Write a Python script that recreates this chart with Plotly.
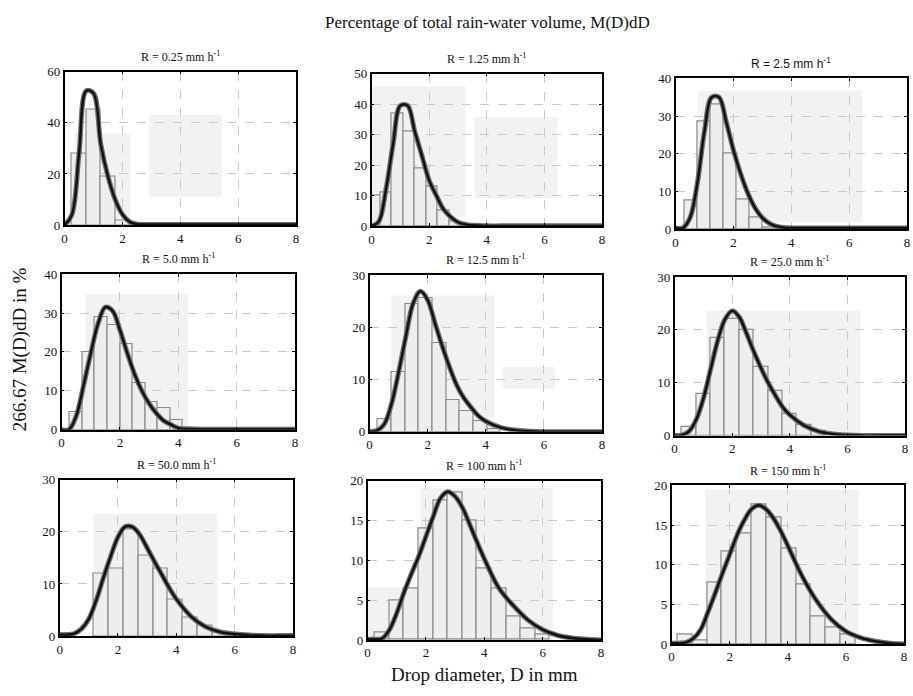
import plotly.graph_objects as go

W, H = 913, 696

# ---------------- data ----------------
rain_rates = ["0.25", "1.25", "2.5", "5.0", "12.5", "25.0", "50.0", "100", "150"]
y_max = [60, 50, 40, 40, 30, 30, 30, 20, 20]
y_step = [20, 10, 10, 10, 10, 10, 10, 5, 5]
x_ticks = [0, 2, 4, 6, 8]

# model curve, sampled on a common diameter grid (mm)
D_grid = [0, 0.25, 0.5, 0.75, 1.0, 1.25, 1.5, 1.75, 2.0, 2.25, 2.5, 2.75, 3.0,
          3.25, 3.5, 3.75, 4.0, 4.5, 5.0, 5.5, 6.0, 6.5, 7.0, 7.5, 8.0]
curve_R025 = [0, 4, 28, 52.5, 51.5, 31.6, 19, 10, 4.2, 1.3, 0.4, 0.3, 0.3,
              0.3, 0.3, 0.3, 0.3, 0.3, 0.3, 0.3, 0.3, 0.3, 0.3, 0.3, 0.3]
curve_R125 = [0, 1.5, 12, 27, 39.5, 39.5, 31, 23, 15, 10, 5.5, 3, 1.3,
              0.6, 0.3, 0.2, 0.1, 0.1, 0.1, 0.1, 0.1, 0.1, 0.1, 0.1, 0.1]
curve_R25 = [0.3, 0.3, 3, 12, 26, 35, 35, 28.5, 21, 14.7, 9.5, 5.6, 3,
             1.5, 0.7, 0.4, 0.3, 0.3, 0.3, 0.3, 0.3, 0.3, 0.3, 0.3, 0.3]
curve_R50 = [0, 0, 3.5, 11.3, 19.7, 27.3, 31.5, 30.5, 25.6, 19.7, 14.3, 10, 6.7,
             4.2, 2.3, 1.3, 0.4, 0.2, 0.1, 0.1, 0.1, 0.1, 0.1, 0.1, 0.1]
curve_R12 = [0, 0.2, 1.4, 5.2, 11.4, 18.3, 24.6, 26.9, 25.2, 20.8, 16.4, 12.4, 8.9,
             6.4, 4.6, 3, 2, 0.8, 0.3, 0.1, 0, 0, 0, 0, 0]
curve_R25b = [0, 0.1, 0.8, 3, 7, 12.5, 18, 22, 23.6, 22.4, 19.3, 15.9, 12.8,
              10, 7.6, 5.4, 3.9, 1.9, 0.8, 0.3, 0.1, 0, 0, 0, 0]
curve_R500 = [0.3, 0.3, 0.5, 1.4, 3.3, 6.8, 11.2, 15.3, 19, 21, 20.9, 19.4, 16.9,
              14.3, 11.8, 9.3, 7.1, 3.8, 1.8, 0.8, 0.4, 0.2, 0.1, 0.1, 0.1]
curve_R100 = [0.1, 0.1, 0.2, 1.3, 3.4, 6, 8.3, 10.5, 13, 15.5, 17.8, 18.6, 18,
              16.6, 14.5, 12.3, 10.2, 6.5, 4.3, 2.5, 1.3, 0.6, 0.25, 0.1, 0]
curve_R150 = [0.1, 0.1, 0.2, 0.7, 1.8, 4, 6.4, 8.9, 11.3, 13.7, 15.6, 17, 17.5,
              17, 15.9, 14.3, 12.4, 8.5, 5.4, 3.1, 1.6, 0.8, 0.35, 0.1, 0]
curves = [curve_R025, curve_R125, curve_R25, curve_R50, curve_R12,
          curve_R25b, curve_R500, curve_R100, curve_R150]

# measured histograms (bin centres in mm, bin widths, percentages)
bin_centres = [
    [0.5, 1.0, 1.5, 2.0],
    [0.15, 0.5, 0.9, 1.3, 1.7, 2.1, 2.5, 2.9],
    [0.52, 0.97, 1.42, 1.87, 2.32, 2.77, 3.22],
    [0.5, 0.93, 1.36, 1.79, 2.22, 2.65, 3.08, 3.51, 3.94],
    [0.52, 0.99, 1.46, 1.93, 2.40, 2.87, 3.34, 3.81, 4.28],
    [0.5, 1.0, 1.5, 2.0, 2.5, 3.0, 3.5, 4.0, 4.5, 5.0],
    [1.42, 1.93, 2.44, 2.95, 3.46, 3.97, 4.48, 4.99, 5.5],
    [0.5, 1.0, 1.5, 2.0, 2.5, 3.0, 3.5, 4.0, 4.5, 5.0, 5.5, 6.0],
    [0.46, 0.97, 1.48, 1.99, 2.5, 3.01, 3.52, 4.03, 4.54, 5.05, 5.56, 6.07],
]
bin_widths = [0.5, 0.4, 0.45, 0.43, 0.47, 0.5, 0.51, 0.5, 0.51]
bin_heights = [
    [28, 45, 19, 2],
    [10, 11, 37, 31, 19, 13, 5, 1.5],
    [7.5, 28.5, 33, 20, 8, 3, 0.5],
    [4.5, 20, 29, 27, 22, 12, 7, 5.5, 2.5],
    [2.5, 11.5, 24.5, 25.5, 17, 6, 4, 2, 0.5],
    [1.7, 7.8, 18.5, 22, 20, 13, 8.5, 4, 2, 0.8],
    [12, 13, 20.5, 15.5, 13, 7, 3.5, 2, 0.8],
    [1, 5, 6.5, 14, 17.5, 18.5, 15, 9, 6.5, 3, 1.5, 0.7],
    [1.2, 0.4, 7.8, 11.7, 14, 17.6, 16, 12, 7.5, 3.5, 2.1, 1.2],
]

# ---------------- layout (pixel boxes of the panels) ----------------
panel_px = [
    (62, 295, 66, 223), (371, 603, 68, 224), (677, 910, 73, 227),
    (59, 294, 273, 432), (369, 603, 274, 434), (676, 908, 276, 438),
    (57, 292, 483, 643), (367, 602, 484, 647), (673, 907, 489, 651),
]
title_font = ["Liberation Serif"] * 9
title_font[2] = "Liberation Sans"

# light scan patches (x0, x1, y0, y1) in data units per panel
patches = [
    [(0.34, 2.29, 0, 35.8), (2.91, 5.43, 11.2, 43)],
    [(0.0, 3.26, 2.9, 45.9), (3.58, 6.45, 9.1, 35.8)],
    [(0.78, 6.45, 1.9, 36.8)],
    [(0.82, 4.34, 0.8, 34.9)],
    [(0.74, 4.3, 0.5, 26.1), (4.58, 6.38, 8.2, 12.4)],
    [(1.11, 6.45, 0.6, 23.6)],
    [(1.17, 5.4, 0, 23.4)],
    [(0.0, 6.35, 0, 6.6), (1.82, 6.35, 0, 19.1)],
    [(1.16, 6.44, 0, 19.5)],
]

serif = "Liberation Serif"
fig = go.Figure()
layout = dict(width=W, height=H, margin=dict(l=0, r=0, t=0, b=0),
              paper_bgcolor="white", plot_bgcolor="white",
              showlegend=False, bargap=0, annotations=[], shapes=[])

for i in range(9):
    k = "" if i == 0 else str(i + 1)
    xa, ya = "x" + k, "y" + k
    x0, x1, y0, y1 = panel_px[i]
    fig.add_trace(go.Bar(x=bin_centres[i], y=bin_heights[i], width=bin_widths[i],
                         marker=dict(color="#eeeeee", line=dict(color="#8a8a8a", width=1.2)),
                         xaxis=xa, yaxis=ya))
    fig.add_trace(go.Scatter(x=D_grid, y=curves[i], mode="lines",
                             line=dict(color="#6e6e6e", width=5, shape="spline", smoothing=1.0),
                             xaxis=xa, yaxis=ya))
    fig.add_trace(go.Scatter(x=D_grid, y=curves[i], mode="lines",
                             line=dict(color="#111111", width=2.4, shape="spline", smoothing=1.0),
                             xaxis=xa, yaxis=ya))
    axcommon = dict(showline=True, linecolor="black", linewidth=1.6, mirror="allticks",
                    ticks="inside", ticklen=3, tickcolor="black",
                    showgrid=True, gridcolor="#c9c9c9", griddash="dash", gridwidth=1,
                    zeroline=False, tickfont=dict(family=serif, size=13, color="#111"))
    layout["xaxis" + k] = dict(axcommon, domain=[x0 / W, x1 / W], anchor=ya,
                               range=[0, 8], tickvals=x_ticks)
    layout["yaxis" + k] = dict(axcommon, domain=[1 - y1 / H, 1 - y0 / H], anchor=xa,
                               range=[0, y_max[i]], dtick=y_step[i], tick0=0)
    for (px0, px1, py0, py1) in patches[i]:
        layout["shapes"].append(dict(type="rect", xref=xa, yref=ya, x0=px0, x1=px1,
                                     y0=py0, y1=py1, fillcolor="#f2f2f2",
                                     line=dict(width=0), layer="below"))
    layout["annotations"].append(dict(
        text="R = " + rain_rates[i] + " mm h<sup>-1</sup>",
        x=(x0 + x1) / 2 / W, y=1 - (y0 - 6) / H, xref="paper", yref="paper",
        xanchor="center", yanchor="bottom", showarrow=False,
        font=dict(family=title_font[i], size=12, color="#111")))

layout["annotations"] += [
    dict(text="Percentage of total rain-water volume, M(D)dD", x=488 / W, y=1 - 16 / H,
         xref="paper", yref="paper", xanchor="center", yanchor="middle", showarrow=False,
         font=dict(family=serif, size=17, color="#111")),
    dict(text="266.67 M(D)dD in %", x=18 / W, y=1 - 350 / H, textangle=-90,
         xref="paper", yref="paper", xanchor="center", yanchor="middle", showarrow=False,
         font=dict(family=serif, size=19, color="#111")),
    dict(text="Drop diameter, D in mm", x=485 / W, y=1 - 682 / H,
         xref="paper", yref="paper", xanchor="center", yanchor="middle", showarrow=False,
         font=dict(family=serif, size=19, color="#111")),
]

fig.update_layout(**layout)
fig.write_html("out.html")
